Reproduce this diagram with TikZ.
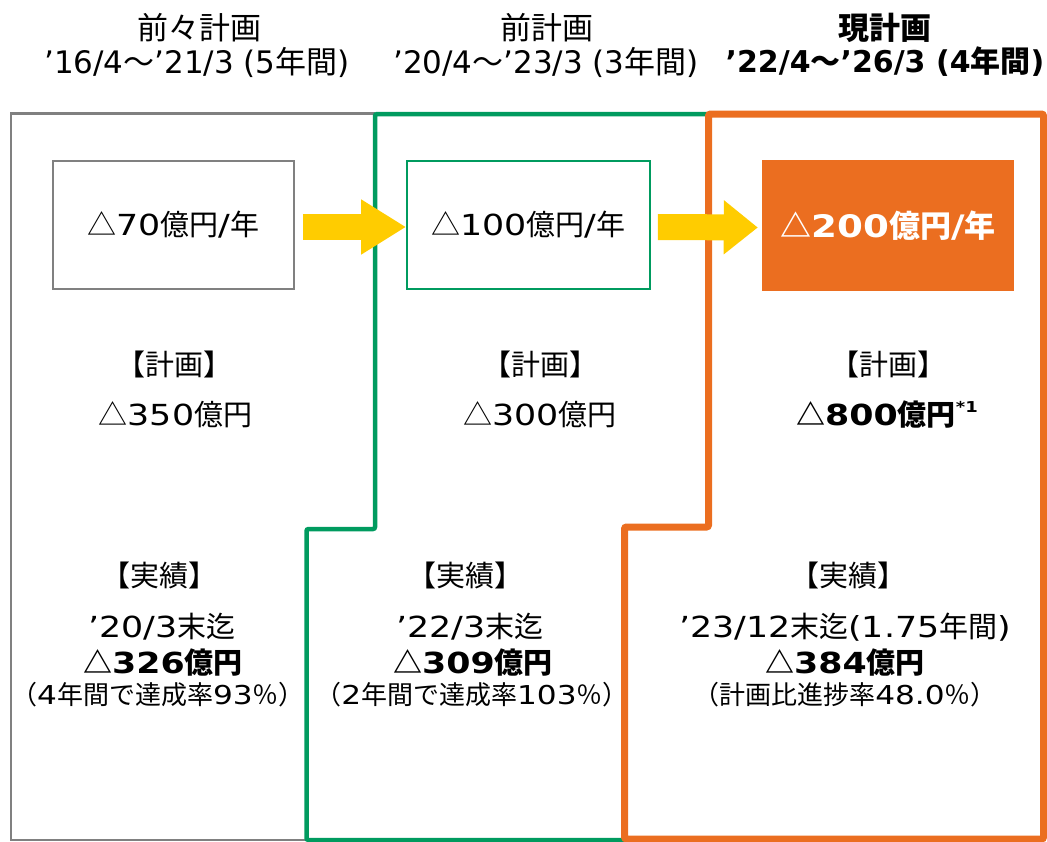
\documentclass[tikz,border=0pt]{standalone}
\usepackage{fontspec}
\setmainfont[FakeStretch=1.2]{DejaVu Sans}
\newfontfamily\jpfont{Noto Sans CJK JP}
\newfontfamily\hlat{DejaVu Sans}
\newcommand\cj[1]{{\jpfont #1}}
\usetikzlibrary{arrows.meta}
\definecolor{cgray}{HTML}{808080}
\definecolor{cgreen}{HTML}{009B5F}
\definecolor{corange}{HTML}{EB6E20}
\definecolor{cyellow}{HTML}{FFCC00}
\tikzset{
  hdr/.style={font=\fontsize{31}{33}\selectfont, inner sep=0pt, anchor=center},
  hdrb/.style={hdr, font=\fontsize{30}{33}\selectfont\bfseries},
  txt/.style={font=\fontsize{29}{31}\selectfont, inner sep=0pt, anchor=center},
  txtb/.style={txt, font=\fontsize{29}{31}\selectfont\bfseries},
  small/.style={font=\fontsize{26}{28}\selectfont, inner sep=0pt, anchor=center},
  planbox/.style={minimum height=128pt, inner sep=0pt, font=\fontsize{29}{31}\selectfont},
  bigarrow/.style={cyellow, line width=26pt},
}
\begin{document}
\begin{tikzpicture}[x=1pt,y=-1pt]
\useasboundingbox (0,0) rectangle (1047,841);
% frames
\draw[cgray, line width=2.5pt] (375,113.5) -- (11,113.5) -- (11,840) -- (306.5,840);
\draw[cgreen, line width=4.5pt, rounded corners=2pt] (306.5,840) -- (306.5,529) -- (375,529) -- (375,114) -- (708.5,114) -- (708.5,527) -- (624.5,527) -- (624.5,840) -- cycle;
\draw[corange, line width=7pt, rounded corners=2pt] (1043.5,114) -- (708.5,114) -- (708.5,527) -- (624.5,527) -- (624.5,839) -- (1043.5,839) -- cycle;
% headers
\node[hdr] (h1a) at (199,28) {\cj{前々計画}};
\node[hdr] (h1b) at (197,62) {\hlat ’16/4\cj{～}’21/3 (5\cj{年間})};
\node[hdr] (h2a) at (547,28) {\cj{前計画}};
\node[hdr] (h2b) at (546,62) {\hlat ’20/4\cj{～}’23/3 (3\cj{年間})};
\node[hdrb, font=\fontsize{31}{33}\selectfont\bfseries] (h3a) at (885,28) {\cj{現計画}};
\node[hdrb] (h3b) at (885,62) {\hlat ’22/4\cj{～}’26/3 (4\cj{年間})};
% boxes
\node[planbox, draw=cgray, line width=1.8pt, minimum width=241pt] (b1) at (173.5,225) {\cj{△}70\cj{億円}/\cj{年}};
\node[planbox, draw=cgreen, line width=1.8pt, minimum width=243pt] (b2) at (528.5,225) {\cj{△}100\cj{億円}/\cj{年}};
\node[planbox, fill=corange, text=white, minimum width=252pt, minimum height=131pt, font=\fontsize{31}{33}\selectfont\bfseries] (b3) at (888,225.5) {\cj{△}200\cj{億円}/\cj{年}};
% arrows
\draw[bigarrow, -{Triangle[length=45pt, width=52pt]}] ([xshift=8pt,yshift=-2pt]b1.east) -- ([yshift=-2pt]b2.west);
\draw[bigarrow, -{Triangle[length=34pt, width=52pt]}] ([xshift=7pt,yshift=-2pt]b2.east) -- ([xshift=-4pt,yshift=-2pt]b3.west);
% plan
\node[txt] (p1) at (174,364) {\cj{【計画】}};
\node[txt] (p2) at (540,364) {\cj{【計画】}};
\node[txt] (p3) at (888,364) {\cj{【計画】}};
\node[txt] (v1) at (175.5,415) {\cj{△}350\cj{億円}};
\node[txt] (v2) at (540,415) {\cj{△}300\cj{億円}};
\node[txtb] (v3) at (887,415) {\cj{△}800\cj{億円}\raisebox{0.45em}{\fontsize{15}{16}\selectfont *1}};
% results
\node[txt] (r1) at (159,575) {\cj{【実績】}};
\node[txt] (r2) at (465,575) {\cj{【実績】}};
\node[txt] (r3) at (848,575) {\cj{【実績】}};
\node[txt] (d1) at (162,627) {’20/3\cj{末迄}};
\node[txt] (d2) at (470,627) {’22/3\cj{末迄}};
\node[txt] (d3) at (845,627) {’23/12\cj{末迄}(1.75\cj{年間})};
\node[txtb] (a1) at (163,662) {\cj{△}326\cj{億円}};
\node[txtb] (a2) at (473,662) {\cj{△}309\cj{億円}};
\node[txtb] (a3) at (845,662) {\cj{△}384\cj{億円}};
\node[small] (c1) at (158,695) {\cj{（}4\cj{年間で達成率}93\cj{％）}};
\node[small] (c2) at (472,695) {\cj{（}2\cj{年間で達成率}103\cj{％）}};
\node[small] (c3) at (845,695) {\cj{（計画比進捗率}48.0\cj{％）}};
\end{tikzpicture}
\end{document}
